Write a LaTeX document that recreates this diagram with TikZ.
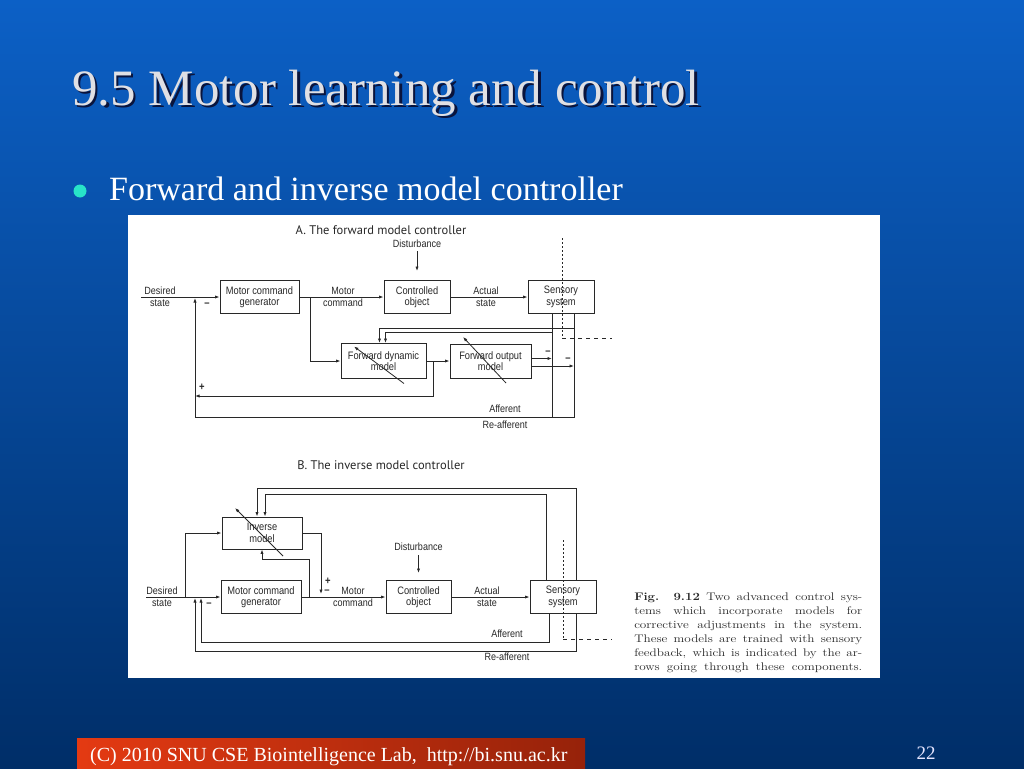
\documentclass[tikz,border=0pt]{standalone}
\usepackage{fontspec}
\newfontfamily\slidefont{Liberation Serif}
\newfontfamily\figfont[FakeStretch=0.86]{Liberation Sans}
\newfontfamily\headfont{PT Sans}
\definecolor{slidetop}{RGB}{12,96,198}
\definecolor{slidemid}{RGB}{8,88,184}
\definecolor{slidebot}{RGB}{0,46,104}
\definecolor{footred}{RGB}{255,78,18}
\definecolor{footleft}{RGB}{228,58,18}
\definecolor{footright}{RGB}{150,34,10}
\definecolor{bulletcyan}{RGB}{40,228,200}
\definecolor{titlegrey}{RGB}{224,224,228}
\definecolor{shadowblue}{RGB}{10,20,60}
\definecolor{inkgrey}{RGB}{40,40,40}
\usetikzlibrary{positioning,calc,arrows.meta}

\begin{document}
\begin{tikzpicture}[
  x=1pt, y=-1pt,
  blk/.style={
    draw=inkgrey,
    line width=0.95pt,
    rectangle,
    minimum width=#1,
    minimum height=33pt,
    inner sep=1pt,
    align=center,
    text=inkgrey,
    font=\figfont\fontsize{10.8}{11.5}\selectfont
    },
  blk/.default=80pt,
  lbl/.style={inner sep=0pt, align=center, text=inkgrey, font=\figfont\fontsize{10.5}{12}\selectfont},
  hd/.style={inner sep=0pt, text=inkgrey, font=\headfont\fontsize{12.5}{13}\selectfont},
  sgn/.style={inner sep=0pt, text=inkgrey, font=\figfont\bfseries\fontsize{11}{11}\selectfont},
  wire/.style={draw=inkgrey, line width=0.8pt},
  arr/.style={wire, -{Latex[length=4.5pt,width=3.2pt]}},
  probe/.style={draw=inkgrey, line width=1pt, dash pattern=on 1.5pt off 2.5pt},
  probeout/.style={draw=inkgrey, line width=0.9pt, dash pattern=on 4pt off 4pt},
  capline/.style={anchor=base west, inner sep=0pt, xscale=1.2, transform shape, text=inkgrey, font=\fontsize{11}{14}\selectfont}
]
\useasboundingbox (0,0) rectangle (1024,768);

% slide
\shade[top color=slidetop, middle color=slidemid, bottom color=slidebot] (0,0) rectangle (1024,768);
\node[anchor=base west, inner sep=0pt, text=shadowblue, font=\slidefont\fontsize{51}{51}\selectfont] (titshadow) at (74.5,107.5) {9.5 Motor learning and control};
\node[anchor=base west, inner sep=0pt, text=titlegrey, font=\slidefont\fontsize{51}{51}\selectfont] (title) at (72,105) {9.5 Motor learning and control};
\fill[bulletcyan] (80,191) circle (6.5);
\node[anchor=base west, inner sep=0pt, text=white, font=\slidefont\fontsize{34}{34}\selectfont] (bullet) at (109,200) {Forward and inverse model controller};
\shade[left color=footleft, middle color=footred, right color=footright] (77,738) rectangle (585,768);
\node[anchor=base west, inner sep=0pt, text=white, font=\slidefont\fontsize{20}{20}\selectfont] (foot) at (90,761) {(C) 2010 SNU CSE Biointelligence Lab,\hspace{10pt}http://bi.snu.ac.kr};
\node[anchor=base, inner sep=0pt, text=blue!10!white, font=\slidefont\fontsize{19}{19}\selectfont] (page) at (926,759) {22};

\fill[white] (128,215) rectangle (880,678);

% A. forward model controller
\node[hd] (titA) at (381,230) {A. The forward model controller};

\node[blk=79pt] (mcgA) at (259.5,297) {Motor command\\generator};
\node[blk=66pt] (coA) at (417,297) {Controlled\\object};
\node[blk=66pt] (ssA) at (561,297) {Sensory\\system};
\node[blk=85pt, minimum height=35pt] (fdmA) at (383.5,361) {Forward dynamic\\model};
\node[blk=81pt, minimum height=34pt] (fomA) at (490.5,361) {Forward output\\model};

\node[lbl] (desA) at (160,297) {Desired\\state};
\node[lbl] (mocA) at (343,297) {Motor\\command};
\node[lbl] (acsA) at (486,297) {Actual\\state};
\node[lbl, above=32pt of coA] (disA) {Disturbance};
\node[lbl] (afLA) at (505,409) {Afferent};
\node[lbl, below=8pt of afLA] (raLA) {Re-afferent};

\coordinate (dsA) at (141,297);
\coordinate (sumA) at (195,298);
\coordinate (mcbA) at (310,297);
\coordinate (fdbA) at (433,361);
\coordinate (plusA) at (195,396);
\coordinate (afA) at (552,417);
\coordinate (raA) at (574,417);
\coordinate (fbuA) at (574,328);
\coordinate (fblA) at (552,332);
\coordinate (fdlA) at ([xshift=-4pt]fdmA.north);
\coordinate (fdrA) at ([xshift=2pt]fdmA.north);
\coordinate (foaA) at ([yshift=2.5pt]fomA.east);
\coordinate (fobA) at ([yshift=-5pt]fomA.east);

\draw[arr] (dsA) -- (mcgA.west);
\draw[arr] (mcgA) -- (coA);
\draw[arr] (coA) -- (ssA);
\draw[arr, shorten <=3pt, shorten >=9pt] (disA) -- (coA);
\draw[arr] (mcbA) |- (fdmA.west);
\draw[arr] (fdmA) -- (fomA);
\draw[arr] (fdbA) |- (plusA);
\draw[wire] (ssA.south -| afA) -- (afA);
\draw[arr] (ssA.south -| raA) -- (raA) -| (sumA);
\draw[arr] (fbuA) -| (fdlA);
\draw[arr] (fblA) -| (fdrA);
\draw[arr] (foaA) -- (foaA -| afA);
\draw[arr] (fobA) -- (fobA -| raA);

\coordinate (prtA) at (562,238);
\coordinate (prbA) at (562,338);
\coordinate (preA) at (612,338);
\draw[probe] (prtA) -- (prbA);
\draw[probeout] (prbA) -- (preA);

% B. inverse model controller
\node[hd] (titB) at (381,465) {B. The inverse model controller};

\node[blk=80pt, minimum height=32pt] (imB) at (262,533) {Inverse\\model};
\node[blk=80pt] (mcgB) at (261,597) {Motor command\\generator};
\node[blk=65pt] (coB) at (418.5,597) {Controlled\\object};
\node[blk=66pt] (ssB) at (563,597) {Sensory\\system};

\node[lbl] (desB) at (162,597) {Desired\\state};
\node[lbl] (mocB) at (353,597) {Motor\\command};
\node[lbl] (acsB) at (487,597) {Actual\\state};
\node[lbl, above=29pt of coB] (disB) {Disturbance};
\node[lbl] (afLB) at (507,634) {Afferent};
\node[lbl, below=15pt of afLB] (raLB) {Re-afferent};

\coordinate (dsB) at (146,597);
\coordinate (dbB) at (185,597);
\coordinate (saB) at (201,598);
\coordinate (srB) at (195,598);
\coordinate (mcbB) at (309,597);
\coordinate (mcuB) at (309,559);
\coordinate (imoB) at (321,594);
\coordinate (afB) at (549,642);
\coordinate (raB) at (576,651);
\coordinate (rtB) at (576,488);
\coordinate (atB) at (546,494);
\coordinate (imlB) at ([xshift=-5pt]imB.north);
\coordinate (imrB) at ([xshift=3pt]imB.north);

\draw[arr] (dsB) -- (mcgB.west);
\draw[arr] (dbB) |- (imB.west);
\draw[arr] (mcgB) -- (coB);
\draw[arr] (coB) -- (ssB);
\draw[arr, shorten <=4pt, shorten >=7pt] (disB) -- (coB);
\draw[arr] (mcbB) -- (mcuB) -| (imB.south);
\draw[arr] (imB.east) -| (imoB);
\draw[arr] (ssB.north -| rtB) -- (rtB) -| (imlB);
\draw[arr] (ssB.north -| atB) -- (atB) -| (imrB);
\draw[arr] (ssB.south -| afB) -- (afB) -| (saB);
\draw[arr] (ssB.south -| raB) -- (raB) -| (srB);

\coordinate (prtB) at (563,540);
\coordinate (prbB) at (563,639);
\coordinate (preB) at (612,639);
\draw[probe, line width=0.7pt] (prtB) -- (prbB);
\draw[probeout] (prbB) -- (preB);

% trained models
\foreach \blk/\sx/\sy/\ex/\ey in {fdmA/20.5pt/-22.5pt/-29.5pt/14.5pt, fomA/15.5pt/-22pt/-27.5pt/24pt, imB/21pt/-23pt/-27pt/25pt}
  \draw[arr] ([shift={(\sx,\sy)}]\blk.center) -- ([shift={(\ex,\ey)}]\blk.center);

% signs
\foreach \s/\px/\py [count=\k from 1] in {–/207/305, +/202/387, –/548/353, –/568/360, –/209/605, +/328/581, –/327/592}
  \node[sgn] (sg\k) at (\px,\py) {\s};

% caption
\foreach \txt [count=\i from 0] in {
  {\textbf{Fig. 9.12} Two advanced control sys-},
  {tems which incorporate models for},
  {corrective adjustments in the system.},
  {These models are trained with sensory},
  {feedback, which is indicated by the ar-},
  {rows going through these components.}}
  \node[capline] (cap\i) at (634,600+14*\i) {\makebox[190pt][s]{\txt}};
\end{tikzpicture}
\end{document}
